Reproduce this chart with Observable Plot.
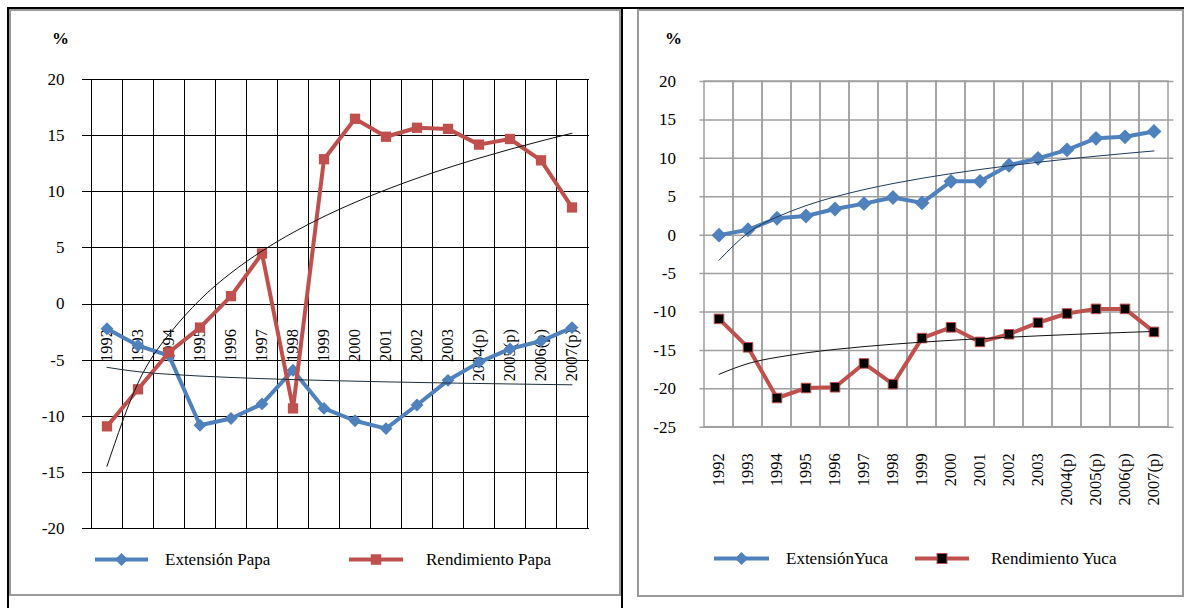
<!DOCTYPE html>
<html>
<head>
<meta charset="utf-8">
<script src="https://cdn.jsdelivr.net/npm/d3@7"></script>
<script src="https://cdn.jsdelivr.net/npm/@observablehq/plot@0.6"></script>
<style>
  html, body { margin: 0; padding: 0; background: #fff; }
  #root { position: relative; width: 1192px; height: 608px; overflow: hidden; background: #fff; font-family: "Liberation Serif", serif; }
  .blk { position: absolute; background: #000; }
  .panel { position: absolute; box-sizing: border-box; border: 2px solid #9a9a9a; }
  .pct { position: absolute; font-weight: bold; font-size: 17px; color: #000; font-family: "Liberation Serif", serif; }
  svg { overflow: visible; }
  svg text { font-family: "Liberation Serif", serif; }
</style>
</head>
<body>
<div id="root"></div>
<script>
// ---------------- data ----------------
const years = ["1992","1993","1994","1995","1996","1997","1998","1999","2000","2001","2002","2003","2004(p)","2005(p)","2006(p)","2007(p)"];

const extensionPapa   = [-2.2, -3.7, -4.6, -10.8, -10.2, -8.9, -5.9, -9.3, -10.4, -11.1, -9.0, -6.8, -5.2, -4.0, -3.3, -2.1];
const rendimientoPapa = [-10.9, -7.6, -4.3, -2.1, 0.7, 4.5, -9.3, 12.9, 16.5, 14.9, 15.7, 15.6, 14.2, 14.7, 12.8, 8.6];

const extensionYuca   = [0.0, 0.7, 2.2, 2.5, 3.4, 4.1, 4.9, 4.2, 7.0, 7.0, 9.1, 10.0, 11.1, 12.6, 12.8, 13.5];
const rendimientoYuca = [-10.9, -14.6, -21.2, -19.9, -19.8, -16.7, -19.4, -13.4, -12.0, -13.9, -12.9, -11.4, -10.2, -9.6, -9.6, -12.6];

const yTicksPapa = [-20, -15, -10, -5, 0, 5, 10, 15, 20];
const yTicksYuca = [-25, -20, -15, -10, -5, 0, 5, 10, 15, 20];

const legendPapa = ["Extensión Papa", "Rendimiento Papa"];
const legendYuca = ["ExtensiónYuca", "Rendimiento Yuca"];
const axisUnit = "%";

// ---------------- helpers ----------------
const BLUE = "#4F81BD";
const RED = "#C0504D";
const FONT = "'Liberation Serif', serif";
const fmt = d => String(d); // plain hyphen-minus like the original

// Logarithmic least-squares trendline (Excel "Logarithmic" trend) fitted on the data
function logTrend(values) {
  const lx = values.map((_, i) => Math.log(i + 1));
  const mx = d3.mean(lx), my = d3.mean(values);
  const b = d3.sum(lx, (l, i) => (l - mx) * (values[i] - my)) / d3.sum(lx, l => (l - mx) ** 2);
  const a = my - b * mx;
  return values.map((_, i) => a + b * Math.log(i + 1));
}

const trExtPapa = logTrend(extensionPapa), trRendPapa = logTrend(rendimientoPapa);
const trExtYuca = logTrend(extensionYuca), trRendYuca = logTrend(rendimientoYuca);

const papa = years.map((year, i) => ({year, ext: extensionPapa[i], rend: rendimientoPapa[i], extT: trExtPapa[i], rendT: trRendPapa[i]}));
const yuca = years.map((year, i) => ({year, ext: extensionYuca[i], rend: rendimientoYuca[i], extT: trExtYuca[i], rendT: trRendYuca[i]}));

const root = document.getElementById("root");
function add(html) { root.insertAdjacentHTML("beforeend", html); }

// frames (decoration)
add('<div class="panel" style="left:9px;top:9px;width:612px;height:587px"></div>');
add('<div class="panel" style="left:637px;top:9px;width:547px;height:588px"></div>');
add('<div class="blk" style="left:7px;top:7px;width:1177px;height:2px"></div>');
add('<div class="blk" style="left:7px;top:7px;width:2px;height:601px"></div>');
add('<div class="blk" style="left:621px;top:7px;width:2px;height:601px"></div>');
add(`<div class="pct" style="left:52px;top:29px">${axisUnit}</div>`);
add(`<div class="pct" style="left:665px;top:29px">${axisUnit}</div>`);

// ---------------- left chart (Papa) ----------------
const left = Plot.plot({
  width: 620, height: 608,
  marginLeft: 88, marginRight: 31, marginTop: 79, marginBottom: 80,
  x: {type: "band", domain: years, padding: 0, axis: null, label: null},
  y: {domain: [-20, 20], axis: null, label: null},
  style: {fontFamily: FONT, fontSize: "17px", background: "transparent", overflow: "visible", color: "#000"},
  marks: [
    Plot.gridY(yTicksPapa, {stroke: "#000", strokeOpacity: 1, strokeWidth: 1, shapeRendering: "crispEdges"}),
    Plot.barY(years, {x: d => d, y1: -20, y2: 20, fill: "none", stroke: "#000", strokeWidth: 1, shapeRendering: "crispEdges"}),
    Plot.axisY(yTicksPapa, {tickSize: 6, tickPadding: 18, stroke: "#000", fill: "#000", fontSize: 17, label: null, tickFormat: fmt, shapeRendering: "crispEdges"}),
    Plot.text(years, {x: d => d, y: 0, text: d => d, rotate: -90, textAnchor: "end", dy: 25, fontSize: 16.5, fill: "#000"}),
    Plot.line(papa, {x: "year", y: "ext", stroke: BLUE, strokeWidth: 4}),
    Plot.dot(papa, {x: "year", y: "ext", symbol: "diamond2", r: 5.8, fill: BLUE}),
    Plot.line(papa, {x: "year", y: "rend", stroke: RED, strokeWidth: 4}),
    Plot.dot(papa, {x: "year", y: "rend", symbol: "square", r: 5.8, fill: RED}),
    Plot.line(papa, {x: "year", y: "rendT", curve: "natural", stroke: "#111", strokeWidth: 1}),
    Plot.line(papa, {x: "year", y: "extT", curve: "natural", stroke: "#1d2f3a", strokeWidth: 1})
  ]
});
left.style.position = "absolute"; left.style.left = "0px"; left.style.top = "0px";
left.style.maxWidth = "none";
root.appendChild(left);

// ---------------- right chart (Yuca) ----------------
const right = Plot.plot({
  width: 572, height: 608,
  marginLeft: 79.5, marginRight: 18.6, marginTop: 81, marginBottom: 181.3,
  x: {type: "band", domain: years, padding: 0, axis: null, label: null},
  y: {domain: [-25, 20], axis: null, label: null},
  style: {fontFamily: FONT, fontSize: "17px", background: "transparent", overflow: "visible", color: "#000"},
  marks: [
    Plot.gridY(yTicksYuca, {stroke: "#a0a0a0", strokeOpacity: 1, strokeWidth: 1.5}),
    Plot.barY(years, {x: d => d, y1: -25, y2: 20, fill: "none", stroke: "#a0a0a0", strokeWidth: 1.5}),
    Plot.axisY(yTicksYuca, {tickSize: 0, tickPadding: 24, fill: "#000", fontSize: 17, label: null, tickFormat: fmt}),
    Plot.axisX(years, {anchor: "bottom", tickRotate: -90, tickSize: 0, tickPadding: 26, fill: "#000", fontSize: 16.5, label: null}),
    Plot.line(yuca, {x: "year", y: "ext", stroke: BLUE, strokeWidth: 4}),
    Plot.dot(yuca, {x: "year", y: "ext", symbol: "diamond2", r: 6.7, fill: BLUE}),
    Plot.line(yuca, {x: "year", y: "rend", stroke: RED, strokeWidth: 4}),
    Plot.dot(yuca, {x: "year", y: "rend", symbol: "square", r: 5.4, fill: "#000", stroke: RED, strokeWidth: 1}),
    Plot.line(yuca, {x: "year", y: "extT", curve: "natural", stroke: "#1f3a60", strokeWidth: 1}),
    Plot.line(yuca, {x: "year", y: "rendT", curve: "natural", stroke: "#111", strokeWidth: 1})
  ]
});
right.style.position = "absolute"; right.style.left = "620px"; right.style.top = "0px";
right.style.maxWidth = "none";
root.appendChild(right);

// ---------------- legends ----------------
const leg = d3.select(root).append("svg")
  .attr("width", 1192).attr("height", 608)
  .style("position", "absolute").style("left", "0px").style("top", "0px")
  .style("pointer-events", "none");

function diamond(g, cx, cy, h, fill) {
  g.append("path").attr("d", `M${cx},${cy - h}L${cx + h},${cy}L${cx},${cy + h}L${cx - h},${cy}Z`).attr("fill", fill);
}
function square(g, cx, cy, s, fill, stroke) {
  g.append("rect").attr("x", cx - s / 2).attr("y", cy - s / 2).attr("width", s).attr("height", s)
    .attr("fill", fill).attr("stroke", stroke || "none");
}
function entry(x1, x2, y, color, tx, label, marker) {
  leg.append("line").attr("x1", x1).attr("x2", x2).attr("y1", y).attr("y2", y)
    .attr("stroke", color).attr("stroke-width", 4);
  marker((x1 + x2) / 2, y);
  leg.append("text").attr("x", tx).attr("y", y).attr("dy", "0.35em")
    .style("font-family", FONT).attr("font-size", 17).attr("fill", "#000").text(label);
}
entry(95, 148, 559.5, BLUE, 165, legendPapa[0], (cx, cy) => diamond(leg, cx, cy, 6.5, BLUE));
entry(349, 403, 559.5, RED, 426, legendPapa[1], (cx, cy) => square(leg, cx, cy, 10.5, RED));
entry(714, 769, 558.5, BLUE, 786, legendYuca[0], (cx, cy) => diamond(leg, cx, cy, 6.5, BLUE));
entry(915, 969, 558.5, RED, 991, legendYuca[1], (cx, cy) => square(leg, cx, cy, 10, "#000", RED));
</script>
</body>
</html>
